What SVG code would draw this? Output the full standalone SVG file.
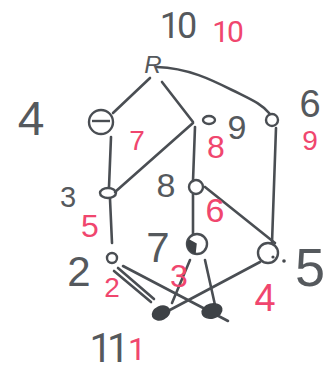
<svg xmlns="http://www.w3.org/2000/svg" width="335" height="374" viewBox="0 0 335 374">
<style>
.e{fill:none;stroke:#4a4e53;stroke-width:2.6;stroke-linecap:round}
.n{fill:none;stroke:#4a4e53;stroke-width:2.4}
.f{fill:#3e4246;stroke:#3e4246;stroke-width:1.5}
.k{font-family:"Liberation Sans",Arial,sans-serif;fill:#55595d;text-anchor:middle}
.r{font-family:"Liberation Sans",Arial,sans-serif;fill:#f0466e;text-anchor:middle}
.o{font-family:Roboto,"Open Sans",sans-serif}
</style>
<rect width="335" height="374" fill="#fff"/>
<g id="connectors">
<path class="e" d="M150,78 L113,113"/>
<path class="e" d="M162,82 L193,122"/>
<path class="e" d="M157,67 C188,68 212,80 232,90 S262,104 270,114"/>
<path class="e" d="M111,137 L109,187"/>
<path class="e" d="M193,123 L115,192"/>
<path class="e" d="M195,127 L193,181"/>
<path class="e" d="M276,128 L272,243"/>
<path class="e" d="M205,187 L275,243"/>
<path class="e" d="M110,199 L112,243"/>
<path class="e" d="M193,194 L193,234"/>
<path class="e" d="M114,271 L151,302"/>
<path class="e" d="M118,268 L154,299"/>
<path class="e" d="M123,266 L228,321"/>
<path class="e" d="M190,260 L172,303"/>
<path class="e" d="M205,260 L215,305"/>
<path class="e" d="M260,262 L168,311"/>
</g>
<g id="node-root"><text class="k" x="153" y="73" font-size="24" font-style="italic">R</text></g>
<g id="node-4"><circle class="n" cx="101" cy="122" r="12"/><path class="n" d="M92,121 L110,121"/>
<text class="k" x="31" y="135" font-size="48">4</text><text class="r" x="137" y="150" font-size="28">7</text></g>
<g id="node-9"><ellipse class="n" cx="209" cy="120" rx="6" ry="4"/>
<text class="k" x="237" y="139" font-size="34">9</text><text class="r" x="216" y="158" font-size="32">8</text></g>
<g id="node-6"><circle class="n" cx="272" cy="120" r="6"/>
<text class="k" x="310" y="117" font-size="38">6</text><text class="r" x="310" y="150" font-size="28">9</text></g>
<g id="node-3"><ellipse class="n" cx="108" cy="193" rx="8" ry="5"/>
<text class="k" x="68" y="207" font-size="29">3</text><text class="r" x="90" y="237" font-size="32">5</text></g>
<g id="node-8"><circle class="n" cx="196" cy="187" r="7"/>
<text class="k" x="166" y="197" font-size="34">8</text><text class="r" x="215" y="222" font-size="34">6</text></g>
<g id="node-7"><circle class="n" cx="197" cy="244" r="10"/><path class="f" d="M189,240 A9,9 0 0 0 195,253 L196,244 Z"/>
<text class="k" x="158" y="262" font-size="42">7</text><text class="r" x="179" y="287" font-size="32">3</text></g>
<g id="node-5"><circle class="n" cx="268" cy="253" r="10"/><circle cx="273" cy="257" r="1.6" fill="#45494d"/><circle cx="284" cy="261" r="1.8" fill="#45494d"/>
<text class="k" x="310" y="286" font-size="54">5</text><text class="r" x="265" y="311" font-size="38">4</text></g>
<g id="node-2"><circle class="n" cx="112" cy="258" r="5"/>
<text class="k" x="79" y="286" font-size="42">2</text><text class="r" x="112" y="297" font-size="28">2</text></g>
<g id="node-bl"><ellipse class="f" cx="161" cy="313" rx="9" ry="6.5" transform="rotate(-25 161 313)"/></g>
<g id="node-br"><ellipse class="f" cx="212" cy="311" rx="10" ry="7" transform="rotate(-15 212 311)"/></g>
<g id="labels">
<text class="k o" x="177" y="38" font-size="36" letter-spacing="-3">10</text>
<text class="r o" x="227" y="42" font-size="30" letter-spacing="-2">10</text>
<text class="k o" x="107" y="362" font-size="40" letter-spacing="-5">11</text>
<text class="r o" x="137" y="360" font-size="32">1</text>
</g>
</svg>
